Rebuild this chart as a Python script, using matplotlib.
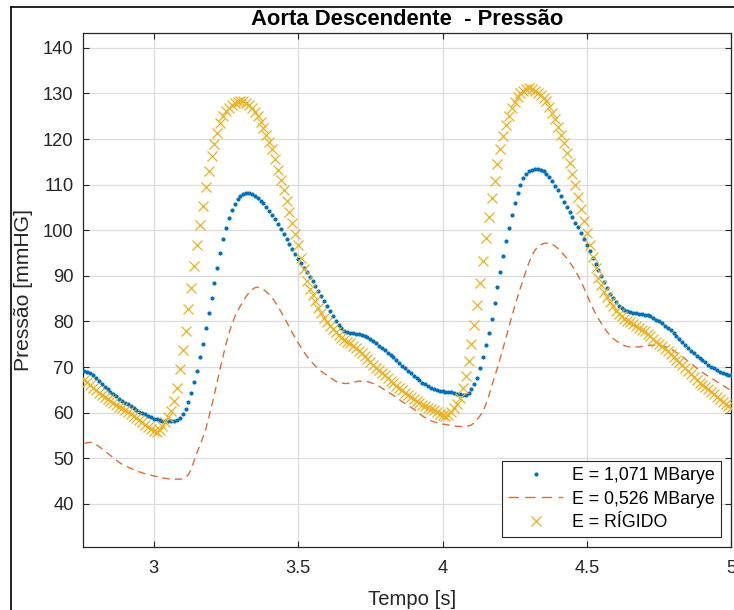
import numpy as np
import matplotlib
matplotlib.use('Agg')
import matplotlib.pyplot as plt
from matplotlib.lines import Line2D

plt.rcParams['font.family'] = ['Liberation Sans', 'DejaVu Sans']

# time axis: samples every 0.01 s starting at 2.76 s
t_start = 2.76
t_step = 0.01

# E = 1,071 MBarye  (blue dots)
blue = [
    69.2, 69.0, 68.7, 68.2,                                          # 2.76-2.79
    67.6, 67.0, 66.3, 65.7, 65.2, 64.6, 64.1, 63.6, 63.1, 62.6,      # 2.80
    62.2, 61.8, 61.4, 61.0, 60.6, 60.2, 59.9, 59.6, 59.3, 59.0,      # 2.90
    58.7, 58.5, 58.3, 58.2, 58.1, 58.1, 58.1, 58.2, 58.4, 58.9,      # 3.00
    59.8, 60.9, 62.3, 64.3, 66.7, 69.2, 72.1, 75.1, 78.5, 81.8,      # 3.10
    85.1, 88.5, 91.8, 95.0, 98.0, 100.6, 102.7, 104.4, 105.8, 106.9,  # 3.20
    107.6, 108.0, 108.2, 108.2, 108.0, 107.6, 107.1, 106.5, 105.9, 105.1,  # 3.30
    104.3, 103.3, 102.4, 101.3, 100.2, 99.1, 98.1, 97.0, 95.9, 94.8,  # 3.40
    93.8, 92.8, 91.8, 90.8, 89.8, 88.8, 87.7, 86.7, 85.6, 84.5,      # 3.50
    83.4, 82.3, 81.2, 80.2, 79.3, 78.6, 78.0, 77.7, 77.5, 77.4,      # 3.60
    77.3, 77.2, 77.0, 76.8, 76.5, 76.1, 75.7, 75.2, 74.7, 74.2,      # 3.70
    73.7, 73.1, 72.6, 72.1, 71.5, 70.9, 70.3, 69.7, 69.1, 68.6,      # 3.80
    68.1, 67.6, 67.1, 66.6, 66.2, 65.8, 65.5, 65.2, 64.9, 64.8,      # 3.90
    64.7, 64.6, 64.5, 64.5, 64.4, 64.2, 64.0, 63.8, 63.9, 64.3,      # 4.00
    65.1, 66.2, 67.7, 69.8, 72.2, 74.8, 77.5, 80.5, 84.0, 87.5,      # 4.10
    90.9, 94.4, 97.6, 100.5, 103.3, 106.0, 108.1, 110.0, 111.4, 112.3,  # 4.20
    112.9, 113.3, 113.5, 113.5, 113.3, 113.0, 112.4, 111.7, 110.8, 109.8,  # 4.30
    108.8, 107.5, 106.1, 105.0, 103.9, 102.9, 101.6, 100.7, 99.5, 98.0,  # 4.40
    96.7, 95.4, 93.9, 92.5, 91.3, 90.0, 88.7, 87.4, 86.1, 85.1,      # 4.50
    84.2, 83.5, 83.0, 82.5, 82.2, 82.1, 81.9, 81.8, 81.7, 81.6,      # 4.60
    81.5, 81.4, 81.1, 80.8, 80.4, 80.0, 79.6, 79.1, 78.6, 78.1,      # 4.70
    77.5, 76.8, 76.1, 75.5, 74.8, 74.2, 73.6, 73.0, 72.5, 72.0,      # 4.80
    71.5, 71.0, 70.5, 70.1, 69.7, 69.3, 69.0, 68.7, 68.5, 68.3,      # 4.90
    68.2,                                                            # 5.00
]

# E = 0,526 MBarye  (red dashed)
red = [
    53.3, 53.4, 53.5, 53.3,                                          # 2.76-2.79
    53.0, 52.6, 52.1, 51.6, 51.1, 50.6, 50.1, 49.6, 49.1, 48.7,      # 2.80
    48.4, 48.1, 47.8, 47.5, 47.3, 47.0, 46.8, 46.6, 46.4, 46.3,      # 2.90
    46.1, 46.0, 45.8, 45.7, 45.6, 45.5, 45.4, 45.4, 45.4, 45.4,      # 3.00
    45.5, 45.8, 46.4, 47.6, 49.5, 51.3, 52.8, 54.5, 56.4, 58.8,      # 3.10
    61.3, 64.1, 66.9, 69.7, 72.4, 75.0, 77.3, 79.3, 80.9, 82.2,      # 3.20
    83.4, 84.5, 85.5, 86.3, 87.0, 87.4, 87.5, 87.3, 87.0, 86.5,      # 3.30
    85.9, 85.2, 84.3, 83.3, 82.2, 81.1, 79.9, 78.7, 77.5, 76.4,      # 3.40
    75.3, 74.3, 73.3, 72.4, 71.6, 70.9, 70.2, 69.6, 69.1, 68.6,      # 3.50
    68.2, 67.8, 67.3, 66.9, 66.6, 66.5, 66.4, 66.4, 66.5, 66.6,      # 3.60
    66.8, 66.9, 66.9, 66.9, 66.8, 66.6, 66.4, 66.1, 65.8, 65.4,      # 3.70
    65.0, 64.6, 64.2, 63.8, 63.3, 62.9, 62.4, 62.0, 61.6, 61.2,      # 3.80
    60.8, 60.3, 59.8, 59.3, 58.9, 58.5, 58.2, 58.0, 57.8, 57.7,      # 3.90
    57.5, 57.4, 57.3, 57.2, 57.1, 57.0, 57.0, 56.9, 57.0, 57.1,      # 4.00
    57.3, 57.8, 58.5, 59.3, 60.3, 61.8, 63.6, 65.8, 67.8, 69.8,      # 4.10
    72.0, 74.2, 76.5, 78.8, 81.1, 83.3, 85.4, 87.4, 89.3, 91.3,      # 4.20
    93.0, 94.5, 95.6, 96.4, 96.8, 97.1, 97.2, 97.1, 96.9, 96.5,      # 4.30
    96.0, 95.3, 94.6, 93.9, 93.0, 92.1, 91.1, 90.0, 88.7, 87.3,      # 4.40
    85.8, 84.4, 83.0, 81.7, 80.6, 79.6, 78.6, 77.7, 77.0, 76.3,      # 4.50
    75.8, 75.4, 75.0, 74.7, 74.5, 74.4, 74.4, 74.4, 74.4, 74.5,      # 4.60
    74.6, 74.7, 74.8, 74.8, 74.8, 74.8, 74.7, 74.5, 74.3, 74.0,      # 4.70
    73.6, 73.2, 72.7, 72.3, 71.8, 71.3, 70.8, 70.3, 69.8, 69.3,      # 4.80
    68.8, 68.4, 68.0, 67.6, 67.2, 66.8, 66.4, 66.0, 65.6, 65.2,      # 4.90
    64.9,                                                            # 5.00
]

# E = RIGIDO  (yellow crosses)
yellow = [
    67.2, 66.7, 66.1, 65.5,                                          # 2.76-2.79
    64.9, 64.4, 63.9, 63.4, 62.9, 62.5, 62.1, 61.7, 61.3, 61.0,      # 2.80
    60.6, 60.2, 59.8, 59.3, 58.8, 58.3, 57.9, 57.4, 56.9, 56.4,      # 2.90
    56.0, 55.8, 56.2, 57.0, 58.0, 59.1, 60.4, 62.5, 65.5, 69.5,      # 3.00
    73.7, 78.0, 82.7, 87.3, 92.1, 96.8, 101.2, 105.3, 109.5, 113.1,  # 3.10
    116.2, 118.9, 121.3, 123.5, 125.0, 126.1, 126.9, 127.5, 127.9, 128.2,  # 3.20
    128.4, 128.3, 128.0, 127.5, 126.8, 126.0, 125.0, 123.7, 122.4, 120.9,  # 3.30
    119.4, 117.8, 115.6, 113.3, 111.0, 108.8, 106.5, 104.1, 101.7, 99.2,  # 3.40
    96.7, 94.0, 91.4, 88.8, 87.2, 85.8, 84.4, 83.0, 81.8, 80.7,      # 3.50
    79.8, 78.9, 78.3, 77.7, 77.0, 76.4, 75.9, 75.5, 75.2, 74.7,      # 3.60
    74.2, 73.6, 73.0, 72.4, 71.8, 71.1, 70.5, 69.9, 69.3, 68.8,      # 3.70
    68.2, 67.6, 67.0, 66.4, 65.9, 65.4, 64.9, 64.4, 63.9, 63.4,      # 3.80
    63.0, 62.5, 62.1, 61.7, 61.4, 61.1, 60.8, 60.5, 60.1, 59.7,      # 3.90
    59.4, 59.2, 59.5, 60.1, 61.0, 62.0, 63.2, 65.5, 68.0, 71.3,      # 4.00
    75.0, 79.2, 83.6, 88.4, 93.3, 98.2, 102.9, 107.0, 110.9, 114.6,  # 4.10
    117.8, 120.6, 123.0, 125.0, 126.8, 128.1, 129.2, 130.1, 130.6, 130.9,  # 4.20
    131.1, 131.0, 130.6, 130.2, 129.7, 129.1, 128.3, 127.1, 125.7, 124.3,  # 4.30
    122.7, 121.0, 119.2, 117.0, 114.7, 112.3, 109.9, 107.3, 104.6, 102.1,  # 4.40
    99.5, 96.7, 94.2, 91.7, 89.6, 88.1, 86.5, 85.3, 84.2, 83.3,      # 4.50
    82.4, 81.7, 81.1, 80.6, 80.2, 79.8, 79.4, 79.0, 78.6, 78.2,      # 4.60
    77.8, 77.3, 76.8, 76.2, 75.6, 75.1, 74.6, 74.0, 73.5, 72.9,      # 4.70
    72.3, 71.6, 71.0, 70.4, 69.7, 69.1, 68.4, 67.8, 67.2, 66.6,      # 4.80
    66.1, 65.6, 65.1, 64.6, 64.0, 63.5, 63.0, 62.4, 61.9, 61.4,      # 4.90
    61.0,                                                            # 5.00
]

labels = ['E = 1,071 MBarye', 'E = 0,526 MBarye', 'E = RÍGIDO']
xticks = [3, 3.5, 4, 4.5, 5]
xticklabels = ['3', '3.5', '4', '4.5', '5']
yticks = [40, 50, 60, 70, 80, 90, 100, 110, 120, 130, 140]

t_blue = t_start + t_step * np.arange(len(blue))
t_red = t_start + t_step * np.arange(len(red))
t_yel = t_start + t_step * np.arange(len(yellow))

W, H = 734, 610
fig = plt.figure(figsize=(W / 100, H / 100), dpi=100)
ax = fig.add_axes([83.3 / W, 1 - 546.7 / H, (731.3 - 83.3) / W, (546.7 - 33.3) / H])

c_blue = '#0072BD'
c_red = '#D95319'
c_yel = '#EDB120'
axc = '#262626'

ax.plot(t_blue, blue, linestyle='none', marker='o', ms=3.0, mew=0,
        color=c_blue, label=labels[0], zorder=3)
ax.plot(t_red, red, linestyle=(0, (5.4, 3.6)), lw=1.0, color=c_red, alpha=0.85,
        label=labels[1], zorder=3)
ax.plot(t_yel, yellow, linestyle='none', marker='x', ms=6.8, mew=0.9,
        color=c_yel, label=labels[2], zorder=4)

ax.set_xlim(2.756, 5.0)
ax.set_ylim(30.6, 143.2)
ax.set_xticks(xticks)
ax.set_xticklabels(xticklabels)
ax.set_yticks(yticks)
ax.grid(True, color='#dcdcdc', lw=0.9)
ax.set_axisbelow(True)
ax.tick_params(direction='in', top=True, right=True, length=4.5, width=0.8,
               colors=axc, labelsize=13.2)
ax.tick_params(axis='x', pad=9.5)
ax.tick_params(axis='y', pad=7)
for s in ax.spines.values():
    s.set_color(axc)
    s.set_linewidth(0.9)

fig.text(407 / W, 1 - 25 / H, 'Aorta Descendente  - Pressão', ha='center',
         va='baseline', fontsize=15.8, fontweight='bold', color='black')
fig.text(412 / W, 1 - 605 / H, 'Tempo [s]', ha='center', va='baseline',
         fontsize=14.6, color=axc)
fig.text(24 / W, 1 - 290 / H, 'Pressão [mmHG]', ha='center', va='center',
         rotation=90, fontsize=15.2, color=axc)

leg = ax.legend(loc='lower right', bbox_to_anchor=(0.984, 0.0183),
                borderaxespad=0, fancybox=False, framealpha=1,
                edgecolor=axc, fontsize=12.8, numpoints=1,
                handlelength=3.1, handletextpad=0.5, borderpad=0.33,
                labelspacing=0.38)
leg.get_frame().set_linewidth(0.8)
leg.get_lines()[1].set_linestyle((0, (7.5, 4.5)))

# outer figure frame (screenshot border)
fig.add_artist(Line2D([11 / W, 11 / W], [0, 1 - 7 / H], color='black', lw=1.2,
                      transform=fig.transFigure))
fig.add_artist(Line2D([11 / W, 1], [1 - 7 / H, 1 - 7 / H], color='black', lw=1.2,
                      transform=fig.transFigure))

fig.savefig('out.png', dpi=100)
